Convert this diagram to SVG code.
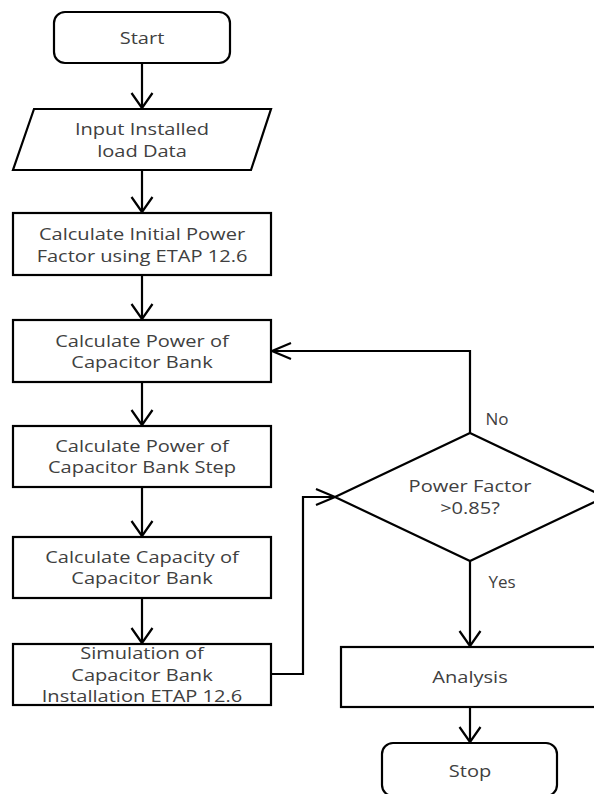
<svg xmlns="http://www.w3.org/2000/svg" width="594" height="794" viewBox="0 0 594 794">
<style>
.shape{fill:#fff;stroke:#000;stroke-width:2.2}
.t{font-family:"Open Sans","Liberation Sans",sans-serif;font-size:17px;fill:#404040;text-anchor:middle}
.c{fill:none;stroke:#000;stroke-width:2.2}
</style>
<defs>
<marker id="arrV" markerUnits="userSpaceOnUse" viewBox="-17 -12 19 24" refX="0" refY="0" markerWidth="19" markerHeight="24" orient="auto" overflow="visible">
<path d="M-15,-10.5 L0,0 L-15,10.5" fill="none" stroke="#000" stroke-width="2.2"/>
</marker>
<marker id="arrH" markerUnits="userSpaceOnUse" viewBox="-22 -10 24 20" refX="0" refY="0" markerWidth="24" markerHeight="20" orient="auto" overflow="visible">
<path d="M-19,-8 L0,0 L-19,8" fill="none" stroke="#000" stroke-width="2.2"/>
</marker>
</defs>
<rect width="594" height="794" fill="#fff"/>
<g id="connectors">
<line class="c" x1="142" y1="63" x2="142" y2="108" marker-end="url(#arrV)"/>
<line class="c" x1="142" y1="170" x2="142" y2="212" marker-end="url(#arrV)"/>
<line class="c" x1="142" y1="275" x2="142" y2="319" marker-end="url(#arrV)"/>
<line class="c" x1="142" y1="382" x2="142" y2="425" marker-end="url(#arrV)"/>
<line class="c" x1="142" y1="487" x2="142" y2="536" marker-end="url(#arrV)"/>
<line class="c" x1="142" y1="598" x2="142" y2="643" marker-end="url(#arrV)"/>
<polyline class="c" points="271,674 303,674 303,497 335,497" marker-end="url(#arrH)"/>
<polyline class="c" points="470,433 470,351 272,351" marker-end="url(#arrH)"/>
<line class="c" x1="470" y1="561" x2="470" y2="646" marker-end="url(#arrV)"/>
<line class="c" x1="470" y1="707" x2="470" y2="742" marker-end="url(#arrV)"/>
<text class="t" x="497" y="425">No</text>
<text class="t" x="502" y="588">Yes</text>
</g>
<g id="start">
<rect class="shape" x="54" y="12" width="176" height="51" rx="11"/>
<g transform="translate(142 0) scale(1.18 1)"><text class="t" x="0" y="44">Start</text></g>
</g>
<g id="input">
<polygon class="shape" points="34,109 271,109 251,170 13,170"/>
<g transform="translate(142 0) scale(1.18 1)"><text class="t" x="0" y="135">Input Installed</text><text class="t" x="0" y="157">load Data</text></g>
</g>
<g id="calc-initial">
<rect class="shape" x="13" y="213" width="258" height="62"/>
<g transform="translate(142 0) scale(1.18 1)"><text class="t" x="0" y="240">Calculate Initial Power</text><text class="t" x="0" y="262">Factor using ETAP 12.6</text></g>
</g>
<g id="calc-power">
<rect class="shape" x="13" y="320" width="258" height="62"/>
<g transform="translate(142 0) scale(1.18 1)"><text class="t" x="0" y="347">Calculate Power of</text><text class="t" x="0" y="368">Capacitor Bank</text></g>
</g>
<g id="calc-step">
<rect class="shape" x="13" y="426" width="258" height="61"/>
<g transform="translate(142 0) scale(1.18 1)"><text class="t" x="0" y="452">Calculate Power of</text><text class="t" x="0" y="473">Capacitor Bank Step</text></g>
</g>
<g id="calc-capacity">
<rect class="shape" x="13" y="537" width="258" height="61"/>
<g transform="translate(142 0) scale(1.18 1)"><text class="t" x="0" y="563">Calculate Capacity of</text><text class="t" x="0" y="584">Capacitor Bank</text></g>
</g>
<g id="simulation">
<rect class="shape" x="13" y="644" width="258" height="61"/>
<g transform="translate(142 0) scale(1.18 1)"><text class="t" x="0" y="659">Simulation of</text><text class="t" x="0" y="681">Capacitor Bank</text><text class="t" x="0" y="702">Installation ETAP 12.6</text></g>
</g>
<g id="decision">
<polygon class="shape" points="470,433 605,497 470,561 335,497"/>
<g transform="translate(470 0) scale(1.18 1)"><text class="t" x="0" y="492">Power Factor</text><text class="t" x="0" y="514">&gt;0.85?</text></g>
</g>
<g id="analysis">
<rect class="shape" x="341" y="647" width="258" height="60"/>
<g transform="translate(470 0) scale(1.18 1)"><text class="t" x="0" y="683">Analysis</text></g>
</g>
<g id="stop">
<rect class="shape" x="382" y="743" width="175" height="53" rx="11"/>
<g transform="translate(470 0) scale(1.18 1)"><text class="t" x="0" y="777">Stop</text></g>
</g>
</svg>
